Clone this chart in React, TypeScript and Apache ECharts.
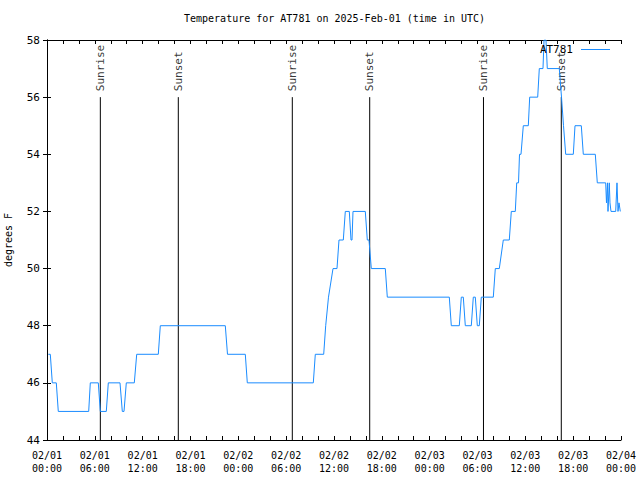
import React, { useEffect, useRef } from "react";
import * as echarts from "echarts";

// hours since 2025-02-01 00:00 UTC
const hours = [
  0.163, 0.414, 0.665, 1.167, 1.417, 5.231, 5.431, 6.435, 6.686, 7.438, 7.689,
  9.157, 9.445, 9.659, 9.947, 10.951, 11.252, 13.961, 14.212, 22.365, 22.641,
  24.874, 25.125, 33.404, 33.654, 34.708, 34.959, 35.31, 35.875, 36.376, 36.627,
  37.167, 37.418, 37.92, 38.133, 38.258, 38.384, 39.927, 40.177, 40.39, 40.679,
  42.435, 42.686, 50.463, 50.714, 51.717, 51.968, 52.219, 52.47, 53.223, 53.474,
  53.724, 53.975, 54.226, 54.477, 55.982, 56.233, 56.735, 57.236, 57.989, 58.24,
  58.742, 58.918, 59.143, 59.269, 59.457, 59.745, 60.372, 60.548, 61.551, 61.752,
  62.216, 62.342, 62.592, 62.755, 64.261, 64.537, 64.788, 65.063, 66.017, 66.23,
  67.02, 67.271, 68.776, 69.027, 70.081, 70.181, 70.307, 70.369, 70.532, 70.62,
  70.745, 71.335, 71.498, 71.624, 71.749, 71.912,
];
const temps = [
  47, 47, 46, 46, 45, 45, 46, 46, 45, 45, 46,
  46, 45, 45, 46, 46, 47, 47, 48, 48, 47,
  47, 46, 46, 47, 47, 48, 49, 50, 50, 51,
  51, 52, 52, 51, 51, 52, 52, 51, 51, 50,
  50, 49, 49, 48, 48, 49, 49, 48, 48, 49,
  49, 48, 48, 49, 49, 50, 50, 51, 51, 52,
  52, 53, 53, 54, 54, 55, 55, 56, 56, 57,
  57, 58, 58, 57, 57, 56, 55, 54, 54, 55,
  55, 54, 54, 53, 53, 52.3, 53, 52, 53, 52.3,
  52, 52, 53, 52, 52.3, 52,
];

const sunLabels = ["Sunrise", "Sunset", "Sunrise", "Sunset", "Sunrise", "Sunset"];
const sunHours = [6.69, 16.47, 30.77, 40.48, 54.75, 64.51];
const sunLineTop = 56;

const seriesName = "AT781";
const titleText = "Temperature for AT781 on 2025-Feb-01 (time in UTC)";
const yName = "degrees F";
const monthLabel = "02";

const FONT = "DejaVu Sans Mono";

const pad = (n: number) => (n < 10 ? "0" + n : "" + n);

export default function App() {
  const ref = useRef<HTMLDivElement>(null);
  useEffect(() => {
    const chart = echarts.init(ref.current!, null, { renderer: "svg" });
    const xCommon = {
      type: "value" as const,
      min: 0,
      max: 72,
      interval: 6,
      axisLine: { show: true, lineStyle: { color: "#000", width: 1 } },
      axisTick: { show: true, inside: true, length: 4, lineStyle: { color: "#000" } },
      minorTick: { show: true, splitNumber: 3, length: 4, lineStyle: { color: "#000" } },
      splitLine: { show: false },
    };
    const yCommon = {
      type: "value" as const,
      min: 44,
      max: 58,
      interval: 2,
      axisLine: { show: true, lineStyle: { color: "#000", width: 1 } },
      axisTick: { show: true, inside: true, length: 4, lineStyle: { color: "#000" } },
      splitLine: { show: false },
    };
    const series: any[] = [
      {
        name: seriesName,
        type: "line",
        data: hours.map((h, i) => [h, temps[i]]),
        showSymbol: false,
        symbol: "none",
        lineStyle: { color: "#1a8cff", width: 1 },
        itemStyle: { color: "#1a8cff" },
        z: 3,
      },
    ];
    sunHours.forEach((h, i) => {
      series.push({
        name: "sun" + i,
        type: "line",
        data: [
          [h, 44],
          [h, sunLineTop],
        ],
        showSymbol: false,
        symbol: "none",
        silent: true,
        lineStyle: { color: "#000", width: 1 },
        z: 2,
      });
      series.push({
        name: "sunlabel" + i,
        type: "scatter",
        data: [[h, sunLineTop]],
        symbolSize: 0,
        silent: true,
        label: {
          show: true,
          formatter: sunLabels[i],
          position: "top",
          distance: 6,
          rotate: 90,
          align: "left",
          verticalAlign: "middle",
          color: "#000",
          fontFamily: FONT,
          fontSize: 11,
        },
      });
    });
    chart.setOption({
      animation: false,
      backgroundColor: "#fff",
      title: {
        text: titleText,
        left: 179,
        top: 8,
        textStyle: { fontFamily: FONT, fontSize: 10, fontWeight: "normal", color: "#000" },
      },
      legend: {
        data: [{ name: seriesName, icon: "rect" }],
        right: 30,
        top: 44,
        padding: 0,
        align: "right",
        itemWidth: 29,
        itemHeight: 1,
        textStyle: {
          fontFamily: FONT,
          fontSize: 11,
          fontWeight: "normal",
          color: "#000",
          padding: [0, 3, 0, 0],
        },
      },
      grid: {
        left: 47,
        right: 19,
        top: 40,
        bottom: 40,
        containLabel: false,
        outerBoundsMode: "none",
      },
      xAxis: [
        {
          ...xCommon,
          position: "bottom",
          axisLabel: {
            show: true,
            color: "#000",
            fontFamily: FONT,
            fontSize: 10,
            lineHeight: 13,
            margin: 9,
            formatter: (v: number) => {
              const day = Math.floor(v / 24) + 1;
              const hr = Math.round(v % 24);
              return `${monthLabel}/${pad(day)}\n${pad(hr)}:00`;
            },
          },
        },
        {
          ...xCommon,
          position: "top",
          axisLabel: { show: false },
        },
      ],
      yAxis: [
        {
          ...yCommon,
          position: "left",
          name: yName,
          nameLocation: "middle",
          nameGap: 34,
          nameRotate: 90,
          nameTextStyle: { fontFamily: FONT, fontSize: 10, color: "#000" },
          axisLabel: { show: true, color: "#000", fontFamily: FONT, fontSize: 11, margin: 7 },
        },
        {
          ...yCommon,
          position: "right",
          axisLabel: { show: false },
        },
      ],
      series,
    });
    return () => chart.dispose();
  }, []);
  return (
    <div
      ref={ref}
      style={{ position: "absolute", left: 0, top: 0, width: 640, height: 480 }}
    />
  );
}
